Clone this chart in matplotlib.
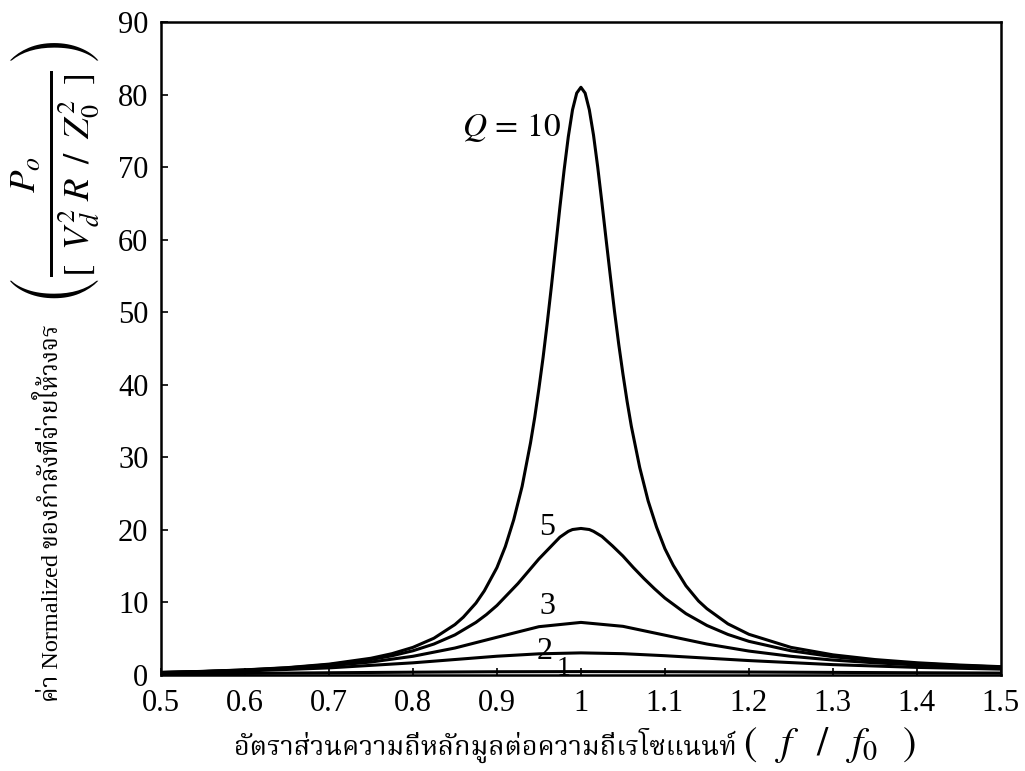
import matplotlib
matplotlib.use('Agg')
import matplotlib.pyplot as plt
from matplotlib import font_manager
from fontTools.ttLib import TTFont

# ratio f/f0 and normalized power for each Q
x10 = [0.50, 0.55, 0.60, 0.65, 0.70, 0.75, 0.775, 0.80, 0.825, 0.85,
       0.86, 0.875, 0.885, 0.90, 0.91, 0.92, 0.93, 0.94, 0.945, 0.95,
       0.955, 0.96, 0.965, 0.97, 0.975, 0.98, 0.985, 0.99, 0.995, 1.00,
       1.005, 1.01, 1.015, 1.02, 1.025, 1.03, 1.035, 1.04, 1.045, 1.05,
       1.055, 1.06, 1.07, 1.08, 1.09, 1.10, 1.11, 1.125, 1.14, 1.15,
       1.175, 1.20, 1.25, 1.30, 1.35, 1.40, 1.45, 1.50]
q10 = [0.36, 0.50, 0.71, 1.01, 1.50, 2.31, 2.94, 3.81, 5.07, 6.95,
       7.97, 9.91, 11.6, 14.8, 17.7, 21.4, 26.0, 32.0, 35.5, 39.5,
       43.8, 48.6, 53.7, 59.1, 64.5, 69.6, 74.2, 77.9, 80.2, 81.0,
       80.2, 77.9, 74.4, 70.0, 65.1, 60.0, 55.0, 50.1, 45.6, 41.5,
       37.7, 34.3, 28.6, 24.0, 20.4, 17.4, 15.1, 12.3, 10.2, 9.14,
       7.05, 5.61, 3.81, 2.78, 2.13, 1.69, 1.38, 1.15]

x5 = [0.50, 0.55, 0.60, 0.65, 0.70, 0.75, 0.775, 0.80, 0.825, 0.85,
      0.875, 0.8875, 0.90, 0.925, 0.9375, 0.95, 0.975, 0.985, 0.99, 1.00,
      1.01, 1.015, 1.025, 1.0375, 1.05, 1.0625, 1.075, 1.0875, 1.10, 1.125,
      1.15, 1.175, 1.20, 1.25, 1.30, 1.35, 1.40, 1.45, 1.50]
q5 = [0.35, 0.49, 0.69, 0.98, 1.42, 2.13, 2.65, 3.34, 4.27, 5.53,
      7.25, 8.33, 9.58, 12.6, 14.3, 16.0, 19.0, 19.8, 20.05, 20.2,
      20.05, 19.8, 19.1, 17.8, 16.4, 14.8, 13.3, 11.9, 10.6, 8.46,
      6.83, 5.59, 4.64, 3.34, 2.52, 1.97, 1.59, 1.31, 1.10]

x3 = [0.50, 0.55, 0.60, 0.65, 0.70, 0.75, 0.80, 0.85, 0.90, 0.95, 1.00,
      1.05, 1.10, 1.15, 1.20, 1.25, 1.30, 1.35, 1.40, 1.45, 1.50]
q3 = [0.34, 0.47, 0.65, 0.90, 1.26, 1.79, 2.58, 3.72, 5.20, 6.66, 7.25,
      6.71, 5.49, 4.27, 3.30, 2.58, 2.06, 1.68, 1.39, 1.18, 1.01]

x2 = [0.50, 0.60, 0.70, 0.80, 0.90, 0.95, 1.00, 1.05, 1.10, 1.20, 1.30, 1.40, 1.50]
q2 = [0.30, 0.55, 0.98, 1.68, 2.59, 2.92, 3.05, 2.94, 2.66, 1.99, 1.43, 1.05, 0.81]

x1 = [0.50, 0.60, 0.70, 0.80, 0.90, 1.00, 1.10, 1.20, 1.30, 1.40, 1.50]
q1 = [0.15, 0.22, 0.31, 0.39, 0.45, 0.47, 0.45, 0.41, 0.36, 0.31, 0.27]

xticks = [0.5, 0.6, 0.7, 0.8, 0.9, 1.0, 1.1, 1.2, 1.3, 1.4, 1.5]
xticklabels = ['0.5', '0.6', '0.7', '0.8', '0.9', '1', '1.1', '1.2', '1.3', '1.4', '1.5']
yticks = [0, 10, 20, 30, 40, 50, 60, 70, 80, 90]


# find some installed font that has Thai glyphs, prefer serif ones
def thai_fonts():
    found = []
    for f in font_manager.fontManager.ttflist:
        if f.name in found:
            continue
        try:
            cmap = TTFont(f.fname, fontNumber=0, lazy=True).getBestCmap()
        except Exception:
            continue
        if cmap and 0x0E01 in cmap:
            found.append(f.name)
    pref = ['Noto Serif Thai', 'Kinnari', 'Norasi', 'TH Sarabun New', 'Laksaman',
            'Loma', 'Garuda', 'Noto Sans Thai', 'Noto Sans Thai UI']
    found.sort(key=lambda n: pref.index(n) if n in pref else len(pref))
    return found


thai = thai_fonts()
fam = ['Liberation Serif'] + thai[:1] + ['DejaVu Sans']
plt.rcParams['font.family'] = fam
plt.rcParams['mathtext.fontset'] = 'stix'

fig = plt.figure(figsize=(10.25, 7.71), dpi=100)
ax = fig.add_axes([0.157, 0.1245, 0.8195, 0.847])

for xs, ys in [(x10, q10), (x5, q5), (x3, q3), (x2, q2), (x1, q1)]:
    ax.plot(xs, ys, color='black', lw=2.2, solid_joinstyle='round')

ax.set_xlim(0.5, 1.5)
ax.set_ylim(0, 90)
ax.set_xticks(xticks)
ax.set_xticklabels(xticklabels)
ax.set_yticks(yticks)
ax.tick_params(direction='in', length=5, width=1.2, labelsize=22,
               top=False, right=False)
ax.tick_params(axis='x', pad=10)
ax.tick_params(axis='y', pad=9)
for s in ax.spines.values():
    s.set_linewidth(1.8)

# curve labels
ax.text(0.976, 75.5, r'$Q\,=\,10$', fontsize=24, ha='right', va='center')
ax.text(0.96, 20.3, '5', fontsize=23, ha='center', va='center')
ax.text(0.96, 9.4, '3', fontsize=23, ha='center', va='center')
ax.text(0.957, 3.3, '2', fontsize=23, ha='center', va='center')
ax.text(0.979, 0.9, '1', fontsize=20, ha='center', va='center')

# x label: thai part + math part
fig.text(737 / 1025, 1 - 745 / 771, 'อัตราส่วนความถี่หลักมูลต่อความถี่เรโซแนนท์',
         fontsize=19.5, ha='right', va='center')
fig.text(743 / 1025, 1 - 745 / 771, r'$(\;\;\;f\;\;\;/\;\;\;f_0\;\;\;)$',
         fontsize=29, ha='left', va='center')

# y label: thai part + math part
fig.text(50 / 1025, 1 - 513 / 771, 'ค่า Normalized ของกำลังที่จ่ายให้วงจร',
         fontsize=17.5, rotation=90, ha='center', va='center')
fig.text(55 / 1025, 1 - 173 / 771,
         r'$\left(\frac{P_o}{[\;\;V_d^2\;R\;\;/\;\;Z_0^2\;\;]}\right)$',
         fontsize=38, rotation=90, ha='center', va='center')

fig.savefig('out.png', dpi=100)
